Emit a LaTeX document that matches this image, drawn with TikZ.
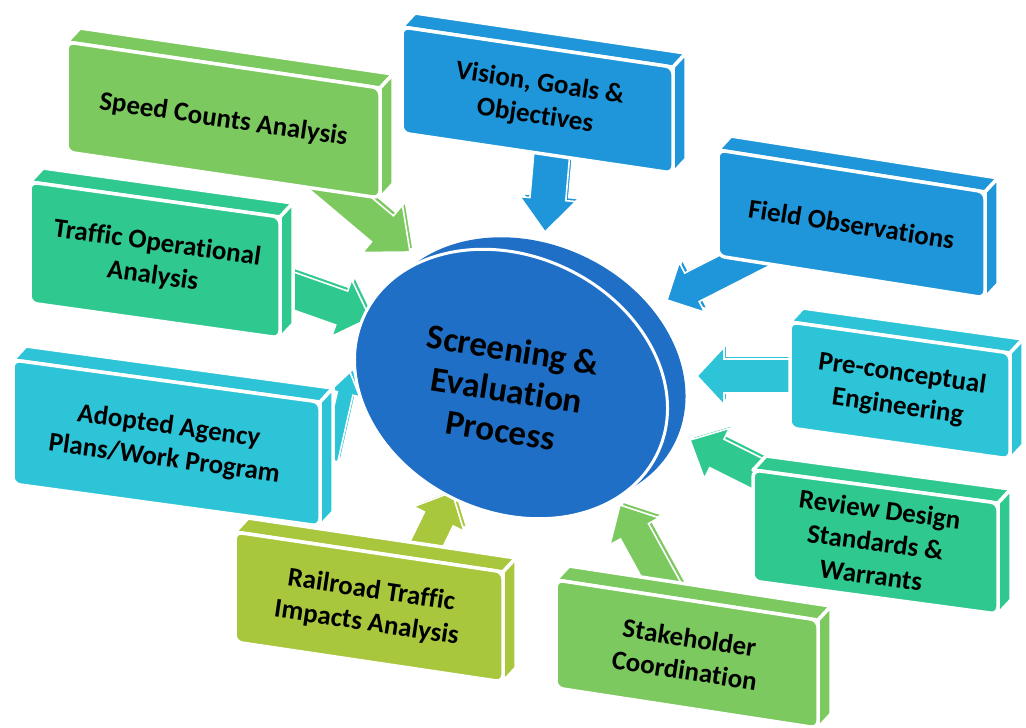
\documentclass[tikz,border=0pt]{standalone}
\usepackage{fontspec}
\setmainfont{Carlito}[Ligatures=NoCommon]
\usetikzlibrary{calc}
\definecolor{cgreen}{HTML}{7CC95F}
\definecolor{cmint}{HTML}{2FC98F}
\definecolor{ccyan}{HTML}{2EC4D8}
\definecolor{cblue}{HTML}{1F96D9}
\definecolor{colive}{HTML}{A9C73D}
\definecolor{cdisk}{HTML}{1F6FC6}
\tikzset{
  face/.style={fill=#1, draw=white, line width=3.5pt, line join=round},
  boxtext/.style={font=\bfseries\fontsize{27}{33}\selectfont, align=center, text=black, inner sep=0pt},
  arrowface/.style={fill=#1, draw=white, line width=1.6pt, line join=miter},
  disktext/.style={font=\bfseries\fontsize{35}{41}\selectfont, align=center, text=black, inner sep=0pt},
}
% name, color, x, y, w, h, slope, text
\newcommand\threedbox[8]{%
  \coordinate (#1A) at (#3,#4);
  \coordinate (#1B) at ({#3+#5},{#4+#5*#7});
  \coordinate (#1C) at ({#3+#5},{#4+#5*#7+#6});
  \coordinate (#1D) at (#3,{#4+#6});
  \path[face=#2] (#1A) -- ($(#1A)+(13,-14)$) -- ($(#1B)+(13,-14)$) -- (#1B) -- cycle;
  \path[face=#2] (#1B) -- ($(#1B)+(13,-14)$) -- ($(#1C)+(13,-14)$) -- (#1C) -- cycle;
  \path[face=#2, rounded corners=7pt] (#1A) -- (#1B) -- (#1C) -- (#1D) -- cycle;
  \node[boxtext, rotate={-atan(#7)}] (#1) at ($(#1A)!0.5!(#1C)$) {#8};
}
% color, tail, tip, body half width, head half width, head length
\newcommand\blockarrow[6]{%
  \coordinate (#2h) at ($(#3)!#6!(#2)$);
  \begin{scope}[transform canvas={shift={(3pt,3pt)}}]
    \path[arrowface=#1] ($(#2)!#4!90:(#3)$) -- ($(#2h)!#4!90:(#3)$) -- ($(#2h)!#5!90:(#3)$) -- (#3)
      -- ($(#2h)!#5!-90:(#3)$) -- ($(#2h)!#4!-90:(#3)$) -- ($(#2)!#4!-90:(#3)$) -- cycle;
  \end{scope}
  \path[arrowface=#1] ($(#2)!#4!90:(#3)$) -- ($(#2h)!#4!90:(#3)$) -- ($(#2h)!#5!90:(#3)$) -- (#3)
      -- ($(#2h)!#5!-90:(#3)$) -- ($(#2h)!#4!-90:(#3)$) -- ($(#2)!#4!-90:(#3)$) -- cycle;
}
\begin{document}
\begin{tikzpicture}[x=1pt,y=-1pt]
\useasboundingbox (0,0) rectangle (1026,728);
\clip (0,0) rectangle (1026,728);
% arrow ends
\coordinate (t1) at (315,172); \coordinate (p1) at (410,252);
\coordinate (t2) at (285,288); \coordinate (p2) at (370,318);
\coordinate (t3) at (330,460); \coordinate (p3) at (350,372);
\coordinate (t4) at (553,140); \coordinate (p4) at (545,232);
\coordinate (t5) at (775,245); \coordinate (p5) at (667,300);
\coordinate (t6) at (800,376); \coordinate (p6) at (697,376);
\coordinate (t7) at (790,490); \coordinate (p7) at (690,440);
\coordinate (t8) at (675,605); \coordinate (p8) at (620,505);
\coordinate (t9) at (408,582); \coordinate (p9) at (452,492);
\blockarrow{cgreen}{t1}{p1}{17pt}{31pt}{36pt}
\blockarrow{cmint}{t2}{p2}{18pt}{30pt}{30pt}
\blockarrow{ccyan}{t3}{p3}{8pt}{15pt}{22pt}
\blockarrow{cblue}{t4}{p4}{18pt}{28pt}{33pt}
\blockarrow{cblue}{t5}{p5}{16pt}{28pt}{28pt}
\blockarrow{ccyan}{t6}{p6}{17pt}{29pt}{27pt}
\blockarrow{cmint}{t7}{p7}{16pt}{28pt}{30pt}
\blockarrow{cgreen}{t8}{p8}{16pt}{28pt}{30pt}
\blockarrow{colive}{t9}{p9}{16pt}{28pt}{30pt}
% central disk
\coordinate (diskback) at (529,372);
\coordinate (diskfront) at (511,384);
\path[fill=cdisk, rotate around={-25:(diskback)}] (diskback) ellipse [x radius=162, y radius=128];
\path[fill=cdisk, draw=white, line width=3pt, rotate around={-25:(diskfront)}] (diskfront) ellipse [x radius=162, y radius=128];
\node[disktext, rotate=-9] (center) at (507,390) {Screening \&\\Evaluation\\Process};
% boxes
\threedbox{rail}{colive}{235}{532}{268}{110}{0.149}{Railroad Traffic\\Impacts Analysis}
\threedbox{stake}{cgreen}{556}{580}{262}{108}{0.153}{Stakeholder\\Coordination}
\threedbox{review}{cmint}{753}{470}{245}{111}{0.135}{Review Design\\Standards \&\\Warrants}
\threedbox{adopted}{ccyan}{13}{360}{307}{124}{0.137}{Adopted Agency\\Plans/Work Program}
\threedbox{pre}{ccyan}{790}{322}{220}{106}{0.141}{Pre-conceptual\\Engineering}
\threedbox{traffic}{cmint}{30}{182}{250}{121}{0.14}{Traffic Operational\\Analysis}
\threedbox{field}{cblue}{718}{150}{267}{106}{0.157}{Field Observations}
\threedbox{speed}{cgreen}{67}{42}{313}{110}{0.147}{Speed Counts Analysis}
\threedbox{vision}{cblue}{402}{27}{271}{106}{0.148}{Vision, Goals \&\\Objectives}
\end{tikzpicture}
\end{document}
